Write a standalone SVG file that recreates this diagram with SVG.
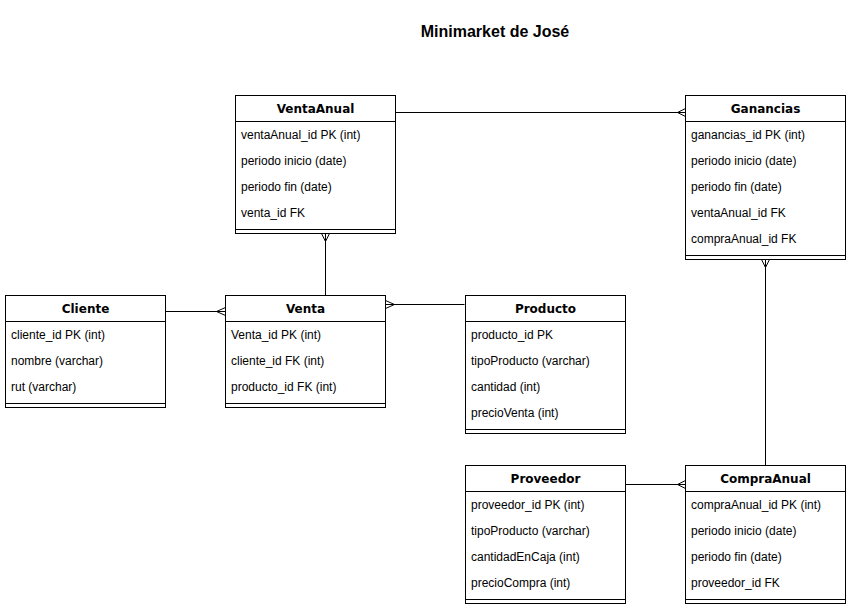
<svg xmlns="http://www.w3.org/2000/svg" width="851" height="609" viewBox="0 0 851 609">
<style>
.box{fill:#fff;stroke:#000;stroke-width:1}
.ln{stroke:#000;stroke-width:1;fill:none}
.hd{font-family:"DejaVu Sans",sans-serif;font-weight:bold;font-size:12px;text-anchor:middle;fill:#000}
.rw{font-family:"Liberation Sans",Arial,sans-serif;font-size:12px;fill:#000}
.ttl{font-family:"Liberation Sans",Arial,sans-serif;font-weight:bold;font-size:16px;text-anchor:middle;fill:#000}
</style>
<rect width="851" height="609" fill="#fff"/>
<text class="ttl" x="495" y="37">Minimarket de José</text>

<g id="connectors">
  <path class="ln" d="M395.5 112.5 H685.5 M677.5 112.5 L685.5 108.5 M677.5 112.5 L685.5 116.5"/>
  <path class="ln" d="M325.5 233.5 V295.5 M325.5 241.5 L321.5 233.5 M325.5 241.5 L329.5 233.5"/>
  <path class="ln" d="M765.5 259.5 V465.5 M765.5 267.5 L761.5 259.5 M765.5 267.5 L769.5 259.5"/>
  <path class="ln" d="M165.5 311.5 H225.5 M216.5 311.5 L225.5 307.5 M216.5 311.5 L225.5 315.5"/>
  <path class="ln" d="M464.5 304.5 H385.5 M394.5 304.5 L385.5 300.5 M394.5 304.5 L385.5 308.5"/>
  <path class="ln" d="M625.5 484.5 H685.5 M677.5 484.5 L685.5 480.5 M677.5 484.5 L685.5 488.5"/>
</g>

<g id="VentaAnual">
  <rect class="box" x="235.5" y="95.5" width="160" height="138"/>
  <path class="ln" d="M235.5 121.5 H395.5 M235.5 229.5 H395.5"/>
  <text class="hd" x="315.5" y="113">VentaAnual</text>
  <text class="rw" x="241" y="138.5">ventaAnual_id PK (int)</text>
  <text class="rw" x="241" y="164.5">periodo inicio (date)</text>
  <text class="rw" x="241" y="190.5">periodo fin (date)</text>
  <text class="rw" x="241" y="216.5">venta_id FK</text>
</g>

<g id="Ganancias">
  <rect class="box" x="685.5" y="95.5" width="160" height="164"/>
  <path class="ln" d="M685.5 121.5 H845.5 M685.5 255.5 H845.5"/>
  <text class="hd" x="765.5" y="113">Ganancias</text>
  <text class="rw" x="691" y="138.5">ganancias_id PK (int)</text>
  <text class="rw" x="691" y="164.5">periodo inicio (date)</text>
  <text class="rw" x="691" y="190.5">periodo fin (date)</text>
  <text class="rw" x="691" y="216.5">ventaAnual_id FK</text>
  <text class="rw" x="691" y="242.5">compraAnual_id FK</text>
</g>

<g id="Cliente">
  <rect class="box" x="5.5" y="295.5" width="160" height="112"/>
  <path class="ln" d="M5.5 321.5 H165.5 M5.5 403.5 H165.5"/>
  <text class="hd" x="85.5" y="313">Cliente</text>
  <text class="rw" x="11" y="338.5">cliente_id PK (int)</text>
  <text class="rw" x="11" y="364.5">nombre (varchar)</text>
  <text class="rw" x="11" y="390.5">rut (varchar)</text>
</g>

<g id="Venta">
  <rect class="box" x="225.5" y="295.5" width="160" height="112"/>
  <path class="ln" d="M225.5 321.5 H385.5 M225.5 403.5 H385.5"/>
  <text class="hd" x="305.5" y="313">Venta</text>
  <text class="rw" x="231" y="338.5">Venta_id PK (int)</text>
  <text class="rw" x="231" y="364.5">cliente_id FK (int)</text>
  <text class="rw" x="231" y="390.5">producto_id FK (int)</text>
</g>

<g id="Producto">
  <rect class="box" x="465.5" y="295.5" width="160" height="138"/>
  <path class="ln" d="M465.5 321.5 H625.5 M465.5 429.5 H625.5"/>
  <text class="hd" x="545.5" y="313">Producto</text>
  <text class="rw" x="471" y="338.5">producto_id PK</text>
  <text class="rw" x="471" y="364.5">tipoProducto (varchar)</text>
  <text class="rw" x="471" y="390.5">cantidad (int)</text>
  <text class="rw" x="471" y="416.5">precioVenta (int)</text>
</g>

<g id="Proveedor">
  <rect class="box" x="465.5" y="465.5" width="160" height="138"/>
  <path class="ln" d="M465.5 491.5 H625.5 M465.5 599.5 H625.5"/>
  <text class="hd" x="545.5" y="483">Proveedor</text>
  <text class="rw" x="471" y="508.5">proveedor_id PK (int)</text>
  <text class="rw" x="471" y="534.5">tipoProducto (varchar)</text>
  <text class="rw" x="471" y="560.5">cantidadEnCaja (int)</text>
  <text class="rw" x="471" y="586.5">precioCompra (int)</text>
</g>

<g id="CompraAnual">
  <rect class="box" x="685.5" y="465.5" width="160" height="138"/>
  <path class="ln" d="M685.5 491.5 H845.5 M685.5 599.5 H845.5"/>
  <text class="hd" x="765.5" y="483">CompraAnual</text>
  <text class="rw" x="691" y="508.5">compraAnual_id PK (int)</text>
  <text class="rw" x="691" y="534.5">periodo inicio (date)</text>
  <text class="rw" x="691" y="560.5">periodo fin (date)</text>
  <text class="rw" x="691" y="586.5">proveedor_id FK</text>
</g>
</svg>
